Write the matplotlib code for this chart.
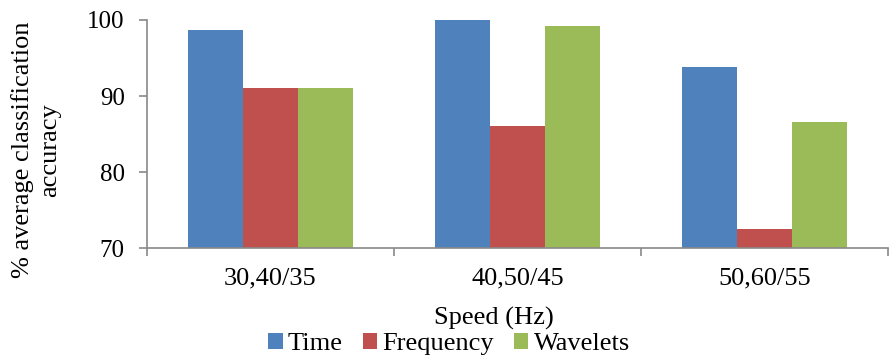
import numpy as np
import matplotlib
matplotlib.use("Agg")
import matplotlib.pyplot as plt

categories = ["30,40/35", "40,50/45", "50,60/55"]
time_acc = [98.7, 100.0, 93.8]
freq_acc = [91.0, 86.1, 72.5]
wavelet_acc = [91.0, 99.2, 86.6]

series = [("Time", time_acc, "#4F81BD"),
          ("Frequency", freq_acc, "#C0504D"),
          ("Wavelets", wavelet_acc, "#9BBB59")]

plt.rcParams['font.family'] = ['Liberation Serif', 'DejaVu Serif']

fig = plt.figure(figsize=(8.9, 3.57), dpi=100)
ax = fig.add_axes([0.165, 0.305, 0.833, 0.639])

x = np.arange(len(categories))
w = 0.223
for i, (name, vals, col) in enumerate(series):
    ax.bar(x + (i - 1) * w, np.array(vals) - 70, width=w, bottom=70,
           color=col, label=name)

ax.set_xlim(-0.5, len(categories) - 0.5)
ax.set_ylim(70, 100)
ax.set_yticks([70, 80, 90, 100])
ax.tick_params(axis='y', labelsize=18, length=6, color='#898989', width=1.2, pad=10)

ax.set_xticks(x)
ax.set_xticklabels(categories, fontsize=19)
ax.tick_params(axis='x', length=0, pad=14)
ax.set_xticks(np.arange(-0.5, len(categories)), minor=True)
ax.tick_params(axis='x', which='minor', length=6, color='#898989', width=1.2)

for s in ['top', 'right']:
    ax.spines[s].set_visible(False)
for s in ['left', 'bottom']:
    ax.spines[s].set_color('#898989')
    ax.spines[s].set_linewidth(1.2)

# axis titles placed in figure coords to match the original layout
fig.text(494 / 890, 1 - 318 / 357, "Speed (Hz)", fontsize=19, ha='center', va='center')
fig.text(36 / 890, 1 - 150 / 357, "% average classification\naccuracy", fontsize=19,
         rotation=90, ha='center', va='center', multialignment='center', linespacing=1.3)

fig.legend(*ax.get_legend_handles_labels(), loc='center', bbox_to_anchor=(449 / 890, 1 - 344 / 357),
           ncol=3, frameon=False, fontsize=19, handlelength=0.55, handleheight=0.55,
           handletextpad=0.2, columnspacing=0.75, borderaxespad=0, borderpad=0)

fig.savefig("out.png", dpi=100)
